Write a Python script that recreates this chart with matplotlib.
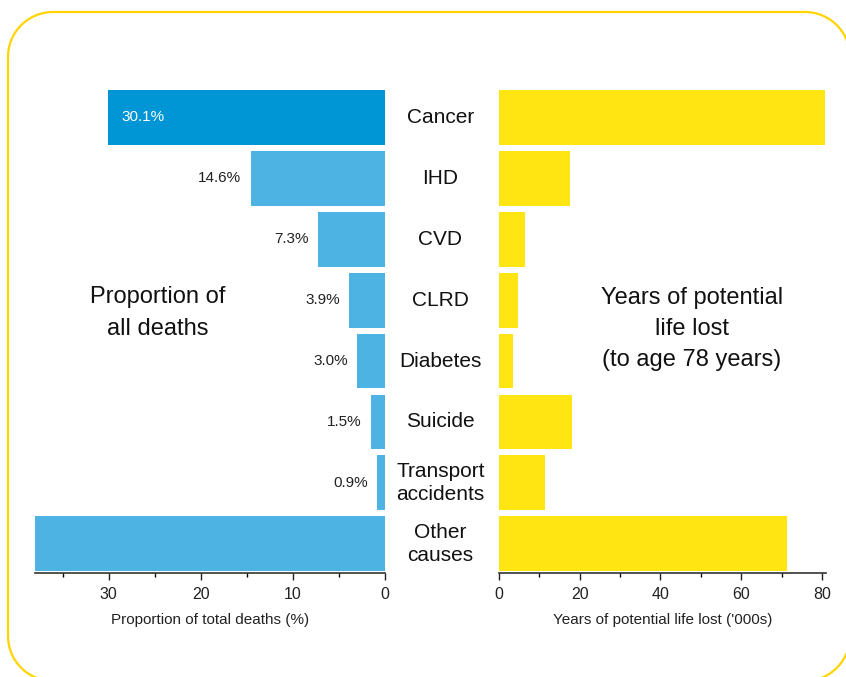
import numpy as np
import matplotlib.pyplot as plt
from matplotlib.ticker import MultipleLocator

plt.rcParams['font.family'] = ['Liberation Sans', 'DejaVu Sans']

causes = ['Cancer', 'IHD', 'CVD', 'CLRD', 'Diabetes', 'Suicide',
          'Transport\naccidents', 'Other\ncauses']
prop_deaths = [30.1, 14.6, 7.3, 3.9, 3.0, 1.5, 0.9, 38.0]
prop_labels = ['30.1%', '14.6%', '7.3%', '3.9%', '3.0%', '1.5%', '0.9%', '']
ypll = [80.8, 17.6, 6.4, 4.7, 3.5, 18.1, 11.4, 71.4]

blue_dark = '#0096d6'
blue = '#4db3e2'
yellow = '#ffe512'

fig = plt.figure(figsize=(8.46, 6.77), dpi=100)

# rounded border as a polyline in pixel units (y measured from top)
bg = fig.add_axes([0, 0, 1, 1])
bg.set_xlim(0, 846)
bg.set_ylim(677, 0)
bg.axis('off')
left, top, right, bot, r = 8, 12, 850, 681, 45
xs, ys = [], []
for cx, cy, a0 in [(right - r, top + r, -90), (right - r, bot - r, 0),
                   (left + r, bot - r, 90), (left + r, top + r, 180)]:
    t = np.radians(np.linspace(a0, a0 + 90, 30))
    xs.extend(cx + r * np.cos(t))
    ys.extend(cy + r * np.sin(t))
xs.append(xs[0])
ys.append(ys[0])
bg.plot(xs, ys, color='#ffd400', lw=1.6, clip_on=False, solid_joinstyle='round')

bottom = 1 - 573 / 677
height = (573 - 87) / 677
ax1 = fig.add_axes([35 / 846, bottom, 350 / 846, height])
ax2 = fig.add_axes([499 / 846, bottom, 327 / 846, height])

pos = list(range(len(causes)))
colors = [blue_dark] + [blue] * (len(causes) - 1)
ax1.barh(pos, prop_deaths, height=0.9, color=colors)
ax1.set_xlim(38.0, 0)
ax1.set_ylim(7.48, -0.5)
for i, (v, lab) in enumerate(zip(prop_deaths, prop_labels)):
    if not lab:
        continue
    if i == 0:
        ax1.text(v - 1.5, i, lab, color='white', ha='left', va='center', fontsize=11)
    else:
        ax1.text(v + 1.0, i, lab, color='#222222', ha='right', va='center', fontsize=11)

ax2.barh(pos, ypll, height=0.9, color=yellow)
ax2.set_xlim(0, 81)
ax2.set_ylim(7.48, -0.5)

for ax in (ax1, ax2):
    for s in ('top', 'left', 'right'):
        ax.spines[s].set_visible(False)
    ax.spines['bottom'].set_linewidth(1.2)
    ax.spines['bottom'].set_color('#333333')
    ax.set_yticks([])
    ax.tick_params(axis='x', labelsize=11.5, length=5, width=1, pad=5, colors='#222222')
    ax.tick_params(axis='x', which='minor', length=3, width=1)

ax1.xaxis.set_major_locator(MultipleLocator(10))
ax1.xaxis.set_minor_locator(MultipleLocator(5))
ax2.xaxis.set_major_locator(MultipleLocator(20))
ax2.xaxis.set_minor_locator(MultipleLocator(10))
ax1.set_xlabel('Proportion of total deaths (%)', fontsize=11, color='#222222', labelpad=8)
ax2.set_xlabel("Years of potential life lost ('000s)", fontsize=11, color='#222222', labelpad=8)

# category labels in the middle
for i, c in enumerate(causes):
    ax2.text(-14.5, i, c, ha='center', va='center', fontsize=15,
             color='#111111', linespacing=1.28, clip_on=False)

fig.text(158 / 846, 1 - 313 / 677, 'Proportion of\nall deaths', ha='center', va='center',
         fontsize=17, color='#111111', linespacing=1.55)
fig.text(692 / 846, 1 - 329 / 677, 'Years of potential\nlife lost\n(to age 78 years)',
         ha='center', va='center', fontsize=17, color='#111111', linespacing=1.55)

plt.savefig('out.png', dpi=100)
